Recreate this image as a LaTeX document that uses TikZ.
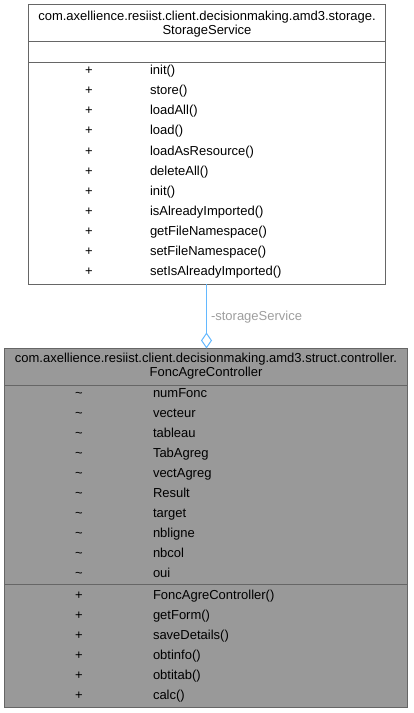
\documentclass[tikz,border=0pt]{standalone}
\usepackage{fontspec}
\setmainfont{Liberation Sans}
\usetikzlibrary{arrows.meta}
\definecolor{boxline}{HTML}{666666}
\definecolor{curfill}{HTML}{999999}
\definecolor{edgeblue}{HTML}{63B8FF}
\definecolor{lblgrey}{HTML}{9E9E9E}
\begin{document}
\begin{tikzpicture}[x=1bp,y=-1bp,
  every node/.style={font=\fontsize{13bp}{14bp}\selectfont, inner sep=0pt, outer sep=0pt},
  classbox/.style={draw=boxline, line width=1bp, anchor=north west, minimum width=#1},
  sepline/.style={draw=boxline, line width=1bp},
  txt/.style={anchor=base west},
  vis/.style={anchor=base},
  ttl/.style={anchor=base},
  assoc/.style={draw=edgeblue, line width=1bp, -{Diamond[open, length=16bp, width=11bp, line width=1bp]}},
  lbl/.style={text=lblgrey, anchor=base west}
]
\useasboundingbox (0,0) rectangle (413,713);

% ---------- StorageService ----------
\node[classbox=356.5bp, fill=white, minimum height=279bp] (storage) at (28.5,5) {};
\draw[sepline] (28.5,42) -- (385,42);
\draw[sepline] (28.5,62.5) -- (385,62.5);
\node[ttl] (st1) at (207,20.7) {com.axellience.resiist.client.decisionmaking.amd3.storage.};
\node[ttl] (st2) at (207,34.7) {StorageService};
\foreach \n [count=\i from 0] in {init(),store(),loadAll(),load(),loadAsResource(),deleteAll(),init(),isAlreadyImported(),getFileNamespace(),setFileNamespace(),setIsAlreadyImported()}{
  \node[vis] (sv\i) at (89,75+20*\i) {+};
  \node[txt] (sm\i) at (150,75+20*\i) {\n};
}

% ---------- FoncAgreController ----------
\node[classbox=403bp, fill=curfill, minimum height=359bp] (fonc) at (4.5,348.5) {};
\draw[sepline] (4.5,385.5) -- (407.5,385.5);
\draw[sepline] (4.5,584) -- (407.5,584);
\node[ttl] (ft1) at (206,362) {com.axellience.resiist.client.decisionmaking.amd3.struct.controller.};
\node[ttl] (ft2) at (206,376) {FoncAgreController};
\foreach \n [count=\i from 0] in {numFonc,vecteur,tableau,TabAgreg,vectAgreg,Result,target,nbligne,nbcol,oui}{
  \node[vis] (fav\i) at (79,397.5+20*\i) {\textasciitilde};
  \node[txt] (fa\i) at (153,397.5+20*\i) {\n};
}
\foreach \n [count=\i from 0] in {FoncAgreController(),getForm(),saveDetails(),obtinfo(),obtitab(),calc()}{
  \node[vis] (fmv\i) at (79,599.5+20*\i) {+};
  \node[txt] (fm\i) at (153,599.5+20*\i) {\n};
}

% ---------- connector ----------
\coordinate (cstart) at (206.5,284);
\coordinate (cend) at (206.5,348.5);
\draw[assoc] (cstart) -- (cend);
\node[lbl] (clbl) at (211,320.5) {-storageService};
\end{tikzpicture}
\end{document}
